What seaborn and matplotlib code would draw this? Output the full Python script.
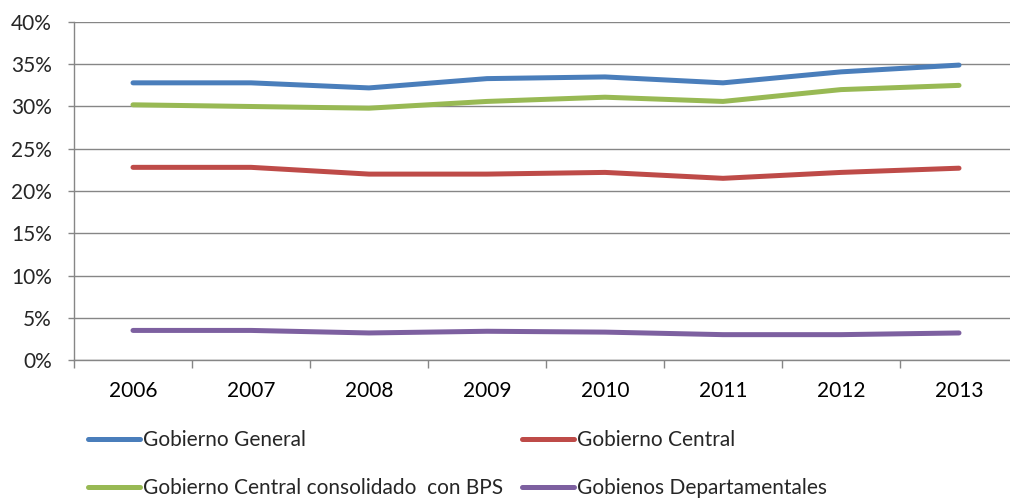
import pandas as pd
import matplotlib.pyplot as plt
import seaborn as sns
from matplotlib.ticker import FixedLocator, PercentFormatter

# Data (% of GDP)
years = ['2006', '2007', '2008', '2009', '2010', '2011', '2012', '2013']
gobierno_general = [32.8, 32.8, 32.2, 33.3, 33.5, 32.8, 34.1, 34.9]
gobierno_central = [22.8, 22.8, 22.0, 22.0, 22.2, 21.5, 22.2, 22.7]
central_consolidado_bps = [30.2, 30.0, 29.8, 30.6, 31.1, 30.6, 32.0, 32.5]
gob_departamentales = [3.5, 3.5, 3.2, 3.4, 3.3, 3.0, 3.0, 3.2]

series = {
    'Gobierno General': gobierno_general,
    'Gobierno Central': gobierno_central,
    'Gobierno Central consolidado  con BPS': central_consolidado_bps,
    'Gobienos Departamentales': gob_departamentales,
}
colors = ['#4A7EBB', '#BE4B48', '#98B954', '#7D60A0']

rows = []
for name, vals in series.items():
    for i, v in enumerate(vals):
        rows.append({'x': i, 'value': v, 'serie': name})
df = pd.DataFrame(rows)

sns.set_style('white')
plt.rcParams['font.family'] = ['Lato', 'DejaVu Sans']
fs = 15

fig = plt.figure(figsize=(10.1, 4.98), dpi=100)
ax = fig.add_axes([74 / 1010, 138 / 498, 944 / 1010, 338 / 498])

sns.lineplot(data=df, x='x', y='value', hue='serie', palette=colors,
             linewidth=3.6, ax=ax, legend=False)

ax.set_xlim(-0.5, 7.5)
ax.set_ylim(0, 40)
ax.set_yticks(range(0, 41, 5))
ax.yaxis.set_major_formatter(PercentFormatter(decimals=0))
ax.set_xticks(range(len(years)))
ax.set_xticklabels(years)
ax.xaxis.set_minor_locator(FixedLocator([i - 0.5 for i in range(len(years) + 1)]))
ax.tick_params(axis='x', which='major', length=0, pad=15, labelsize=fs, colors='black')
ax.tick_params(axis='x', which='minor', length=6, width=1, color='#868686', direction='out', bottom=True)
ax.tick_params(axis='y', length=4, width=1, color='#868686', pad=12, labelsize=fs, left=True)
ax.set_xlabel('')
ax.set_ylabel('')

ax.grid(axis='y', color='#868686', linewidth=1)
ax.set_axisbelow(True)
for s in ['top', 'right']:
    ax.spines[s].set_visible(False)
for s in ['left', 'bottom']:
    ax.spines[s].set_color('#868686')
    ax.spines[s].set_linewidth(1)

# legend: two columns placed separately, rows read left to right
names = list(series.keys())
handles = [plt.Line2D([], [], color=c, linewidth=3.6) for c in colors]
col_x = [88 / 1010, 522 / 1010]
for k in range(2):
    idx = [k, k + 2]
    fig.legend([handles[i] for i in idx], [names[i] for i in idx], loc='upper left',
               bbox_to_anchor=(col_x[k], 1 - 430 / 498), frameon=False,
               fontsize=fs, handlelength=2.5, handletextpad=0.15,
               labelspacing=1.35, borderpad=0, borderaxespad=0)

fig.savefig('out.png', dpi=100)
